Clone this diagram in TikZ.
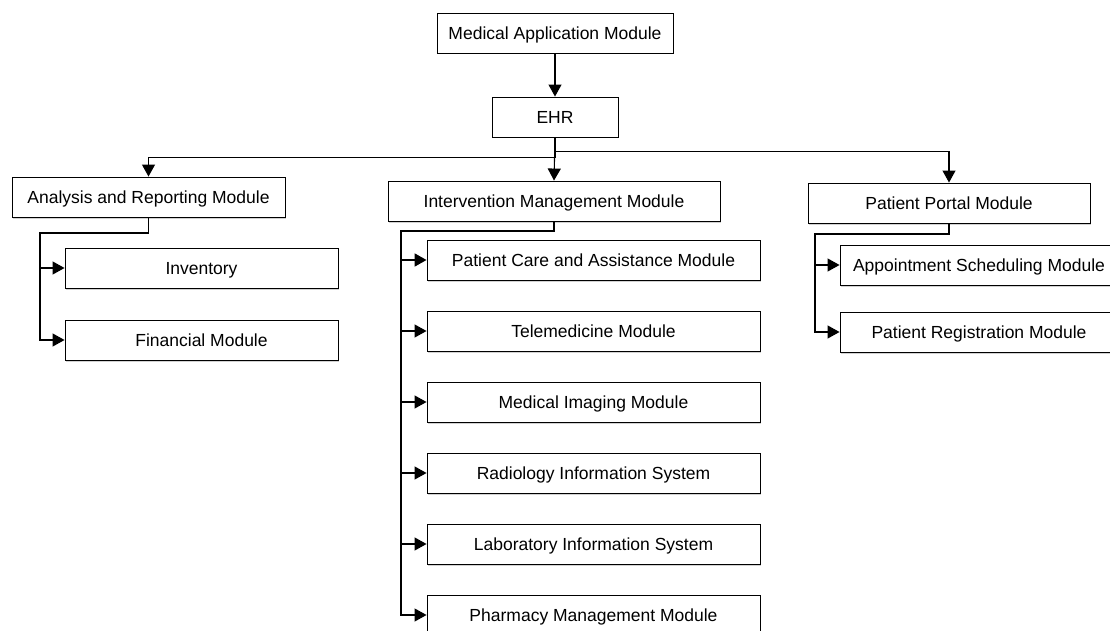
\documentclass[tikz,border=0pt]{standalone}
\usepackage{fontspec}
\setmainfont{Liberation Sans}
\usetikzlibrary{arrows.meta,shadows}
\tikzset{
  module/.style={rectangle, draw, fill=white, line width=0.9pt, minimum height=40pt, inner sep=0pt,
    font=\fontsize{17.5}{20}\selectfont, text height=15pt, text depth=1.5pt,
    drop shadow={shadow xshift=1pt, shadow yshift=-1.5pt, opacity=0.3, fill=black!60}},
  link/.style={line width=1.1pt, -{Triangle[length=12pt,width=13pt]}},
  boldlink/.style={line width=1.8pt, -{Triangle[length=12pt,width=13pt]}}
}
\begin{document}
\begin{tikzpicture}[x=1pt, y=-1pt]
  \useasboundingbox (0,0) rectangle (1110,631);
  \clip (0,0) rectangle (1110,631);

  \node[module, minimum width=236pt] (mam) at (555,33) {Medical Application Module};
  \node[module, minimum width=126pt] (ehr) at (555,117) {EHR};
  \node[module, minimum width=273pt] (arm) at (148.5,197) {Analysis and Reporting Module};
  \node[module, minimum width=332pt] (imm) at (554,201) {Intervention Management Module};
  \node[module, minimum width=282pt] (ppm) at (949,203) {Patient Portal Module};

  \foreach \i/\y/\txt in {inv/268/Inventory, fin/340/Financial Module} {
    \node[module, minimum width=273pt] (\i) at (201.5,\y) {\txt};
  }
  \foreach \i/\y/\txt in {pca/260/Patient Care and Assistance Module,
                          tel/331/Telemedicine Module,
                          mim/402/Medical Imaging Module,
                          ris/473/Radiology Information System,
                          lis/544/Laboratory Information System,
                          pmm/615/Pharmacy Management Module} {
    \node[module, minimum width=333pt] (\i) at (593.5,\y) {\txt};
  }
  \foreach \i/\y/\txt in {asm/265/Appointment Scheduling Module,
                          prm/332/Patient Registration Module} {
    \node[module, minimum width=278pt] (\i) at (979,\y) {\txt};
  }

  \coordinate (armbus) at (40,233);
  \coordinate (immbus) at (401,231);
  \coordinate (ppmbus) at (815,234);

  \draw[link] (mam) -- (ehr);
  \draw[link] (ehr.south) -- (imm.north);
  \draw[link] (ehr.south) -- ++(0,20) -| (arm.north);
  \draw[link] (ehr.south) -- ++(0,14) -| (ppm.north);

  \draw[link] (arm.south) |- (armbus) |- (inv.west);
  \draw[link] (armbus) |- (fin.west);

  \draw[boldlink] (imm.south) |- (immbus) |- (pca.west);
  \foreach \i in {tel,mim,ris,lis,pmm} {
    \draw[link] (immbus) |- (\i.west);
  }
  \draw[line width=1.8pt] (immbus) -- (immbus |- ris.west);

  \draw[link] (ppm.south) |- (ppmbus) |- (asm.west);
  \draw[link] (ppmbus) |- (prm.west);
\end{tikzpicture}
\end{document}
